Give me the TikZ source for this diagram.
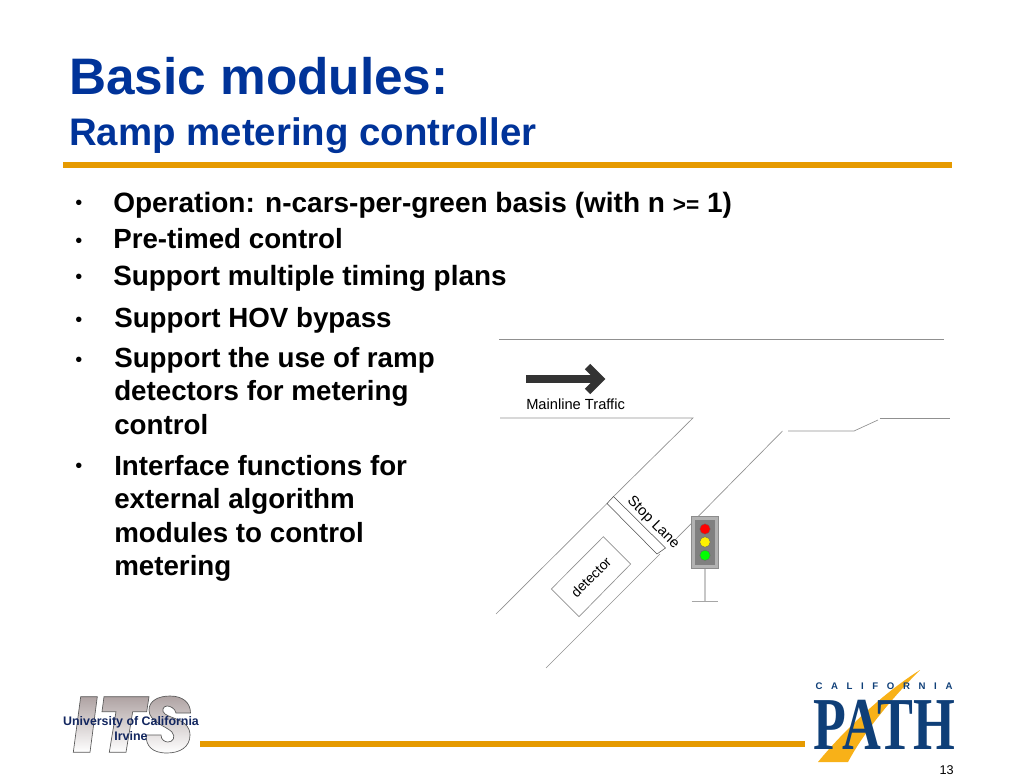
\documentclass[tikz,border=0pt]{standalone}
\usepackage{fontspec}
\setmainfont{Liberation Sans}
\newfontfamily\pathfont{Liberation Serif}
\usetikzlibrary{positioning}
\definecolor{titleblue}{HTML}{003399}
\definecolor{ruleorange}{HTML}{E69A00}
\definecolor{itsnavy}{HTML}{12265F}
\definecolor{itsgray}{HTML}{AFA3A3}
\definecolor{pathnavy}{HTML}{0F3F78}
\definecolor{swoosh}{HTML}{F8B118}
\definecolor{roadgray}{HTML}{909090}
\tikzset{
  maintitle/.style={anchor=base west, inner sep=0pt, text=titleblue, font=\fontsize{38.5}{44}\selectfont\bfseries},
  subtitle/.style={anchor=base west, inner sep=0pt, text=titleblue, font=\fontsize{28.8}{34}\selectfont\bfseries},
  itemtext/.style={anchor=base west, inner sep=0pt, align=left, font=\fontsize{20.8}{25.1}\selectfont\bfseries},
  bulletmark/.style={anchor=center, inner sep=0pt, font=\fontsize{15}{17}\selectfont},
  rulebar/.style={draw=ruleorange, line width=3.9pt},
  road/.style={draw=roadgray, line width=0.5pt},
  smalltext/.style={inner sep=0pt, font=\fontsize{11}{13}\selectfont},
  lamp/.style={circle, draw=black!60, line width=0.3pt, minimum size=7.8pt, inner sep=0pt},
  itsletter/.style={draw=black!65, line width=0.5pt, top color=itsgray, bottom color=white},
}
\begin{document}
\begin{tikzpicture}[x=0.75pt, y=-0.75pt]
    \useasboundingbox (0,0) rectangle (1024,784) ; %

    % heading
    \node[maintitle] (title) at (69,95) {Basic modules:} ; %
    \node[subtitle] (subtitle) at (69,145.5) {Ramp metering controller} ; %
    \draw[rulebar] (63,165) -- (952,165) ; %

    % bullets
    \node[itemtext, font=\fontsize{21}{25.1}\selectfont\bfseries] (operation) at (113,213) {Operation: n-cars-per-green basis (with n {\fontsize{17}{20}\selectfont >=} 1)} ; %
    \node[itemtext] (pretimed) at (113,248.5) {Pre-timed control} ; %
    \node[itemtext, font=\fontsize{20.9}{25.1}\selectfont\bfseries] (plans) at (113,286) {Support multiple timing plans} ; %
    \node[itemtext] (hov) at (114,327) {Support HOV bypass} ; %
    \node[itemtext, anchor=north west] (detectors) at (114,347) {Support the use of ramp\\detectors for metering\\control} ; %
    \node[itemtext, anchor=north west] (interface) at (114,455) {Interface functions for\\external algorithm\\modules to control\\metering} ; %

    \node[bulletmark] (b1) at (79,205) {•} ; %
    \node[bulletmark] (b2) at (79,242.5) {•} ; %
    \node[bulletmark] (b3) at (79,279) {•} ; %
    \node[bulletmark] (b4) at (79,321.5) {•} ; %
    \node[bulletmark] (b5) at (79,361.5) {•} ; %
    \node[bulletmark] (b6) at (79,468) {•} ; %

    % road
    \draw[road] (499,339.5) -- (944,339.5) ; %
    \draw[road] (500,418) -- (693,418) -- (613.5,496.5) ; %
    \draw[road] (607,503.5) -- (496,614) ; %
    \draw[road] (782.5,431) -- (675,540) ; %
    \draw[road] (660,554) -- (546,668) ; %
    \draw[road] (788,431) -- (854,431) -- (878,420) ; %
    \draw[road] (879.5,418.3) -- (950,418.3) ; %
    \draw[road, line width=0.4pt, draw=black!70] (613.5,496.5) -- (607,503.5) -- (657,554) -- (665.5,548) -- cycle ; %

    % traffic arrow
    \draw[draw=black!80, line width=6.4pt] (526,379) -- (598,379) ; %
    \draw[draw=black!80, line width=5.6pt] (587.5,366.5) -- (600,379) -- (587.5,391.5) ; %
    \node[smalltext, anchor=base west] (mainline) at (526,409.5) {Mainline Traffic} ; %

    % loop and stop line
    \node[smalltext, rotate=-45] (stoplane) at (653,523) {Stop Lane} ; %
    \draw[road] (603.3,536.7) -- (630.7,564) -- (579,616.7) -- (551.3,589) -- cycle ; %
    \node[smalltext, rotate=45, font=\fontsize{10.4}{13}\selectfont] (detector) at (591,577) {detector} ; %

    % signal head
    \draw[draw=black!22, line width=2.2pt] (705,568.7) -- (705,601.5) ; %
    \draw[road, draw=black!35] (691.7,601.7) -- (718.3,601.7) ; %
    \node[draw=black!45, line width=0.4pt, fill=black!30, minimum width=20.5pt, minimum height=39.3pt, inner sep=0pt] (housing) at (705,542.5) {} ; %
    \node[fill=black!50, minimum width=15pt, minimum height=34pt, inner sep=0pt] (panel) at (705,542.7) {} ; %
    \node[lamp, fill=red] (redlamp) at (705,529) {} ; %
    \node[lamp, fill=yellow] (yellowlamp) at (705,542) {} ; %
    \node[lamp, fill=green] (greenlamp) at (705,555.3) {} ; %

    % ITS logo
    \path[itsletter] (80.7,696.7) -- (97.3,696.7) -- (90,752.3) -- (73.3,752.3) -- cycle ; %
    \path[itsletter] (104,696.7) -- (149,696.7) -- (146.7,711.7) -- (132.7,711.7) -- (126,752.3) -- (109.3,752.3) -- (116,711.7) -- (102,711.7) -- cycle ; %
    \path[itsletter] (190.5,713) -- (176,713)
        .. controls (175,708) and (170,706) .. (167,706)
        .. controls (163,706) and (161,711) .. (165,714)
        .. controls (172,719) and (190,720) .. (190,735)
        .. controls (190,747) and (180,753) .. (167,753)
        .. controls (152,753) and (146,746) .. (146,735) -- (161,735)
        .. controls (161,740) and (165,742) .. (168,742)
        .. controls (173,742) and (176,737) .. (172,732)
        .. controls (166,726) and (149,722) .. (149,710)
        .. controls (149,701) and (158,696) .. (170,696)
        .. controls (182,696) and (190.5,702) .. (190.5,713) -- cycle ; %
    \node[inner sep=0pt, align=center, text=itsnavy, font=\fontsize{9.3}{11.2}\selectfont\bfseries] (uci) at (131,729) {University of California\\Irvine} ; %
    \draw[rulebar] (200,744) -- (805,744) ; %

    % PATH logo
    \fill[swoosh] (920,670) .. controls (880,695) and (840,735) .. (818,762) -- (848,762) .. controls (865,730) and (895,695) .. (920,670) -- cycle ; %
    \node[inner sep=0pt, text=pathnavy, transform shape, xscale=.72, font=\pathfont\bfseries\fontsize{56}{60}\selectfont] (path) at (884.5,724.5) {PATH} ; %
    \node[inner sep=0pt, text=pathnavy, font=\bfseries\addfontfeature{LetterSpace=90}\fontsize{7.2}{9}\selectfont] (california) at (884,686.5) {CALIFORNIA} ; %
    \node[inner sep=0pt, anchor=base east, font=\fontsize{9.5}{11}\selectfont] (pagenum) at (954,774) {13} ; %
\end{tikzpicture}
\end{document}
